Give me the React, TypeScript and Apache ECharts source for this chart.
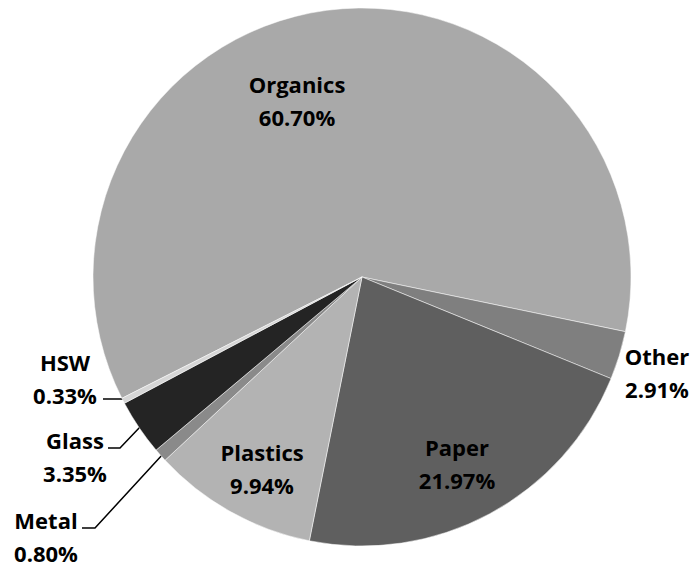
import React, { useEffect, useRef } from "react";
import * as echarts from "echarts";

// Waste composition shares (percent), clockwise from the HSW / Organics boundary
const categories = ["Organics", "Other", "Paper", "Plastics", "Metal", "Glass", "HSW"];
const shares = [60.7, 2.91, 21.97, 9.94, 0.8, 3.35, 0.33];
const sliceColors = ["#a9a9a9", "#7f7f7f", "#5f5f5f", "#b3b3b3", "#8a8a8a", "#242424", "#d6d6d6"];

// Label anchor points (centre of the two-line label) and leader lines
const labelSpots: Record<string, [number, number]> = {
  Organics: [297, 100],
  Other: [657, 372],
  Paper: [457, 463],
  Plastics: [262, 468],
  Metal: [46, 536],
  Glass: [75, 456],
  HSW: [65, 378],
};
const leaderLines: Record<string, number[][]> = {
  HSW: [[124, 399], [115, 399], [103, 399]],
  Glass: [[140, 427], [120, 448], [108, 448]],
  Metal: [[163, 454], [95, 528], [82, 528]],
};

export default function App() {
  const ref = useRef<HTMLDivElement>(null);
  useEffect(() => {
    document.body.style.margin = "0";
    const chart = echarts.init(ref.current!, null, { renderer: "svg" });
    chart.setOption({
      animation: false,
      backgroundColor: "#ffffff",
      series: [
        {
          type: "pie",
          center: [362, 277],
          radius: 269,
          startAngle: 206.8,
          clockwise: true,
          avoidLabelOverlap: false,
          itemStyle: { borderColor: "#ffffff", borderWidth: 0.5 },
          label: {
            show: true,
            position: "outside",
            color: "#000000",
            fontFamily: "Open Sans",
            fontWeight: "bold",
            fontSize: 22,
            lineHeight: 33,
            align: "center",
            formatter: (p: any) => `${p.name}\n${p.value.toFixed(2)}%`,
          },
          labelLine: { show: true, lineStyle: { color: "#000000", width: 1.5 } },
          labelLayout: (params: any) => {
            const name = categories[params.dataIndex];
            const [x, y] = labelSpots[name];
            const out: any = { x, y, align: "center", verticalAlign: "middle" };
            if (leaderLines[name]) out.labelLinePoints = leaderLines[name];
            return out;
          },
          data: categories.map((name, i) => ({
            name,
            value: shares[i],
            itemStyle: { color: sliceColors[i] },
            labelLine: { show: !!leaderLines[name] },
          })),
        },
      ],
    });
    return () => chart.dispose();
  }, []);
  return <div ref={ref} style={{ width: 694, height: 569 }} />;
}
